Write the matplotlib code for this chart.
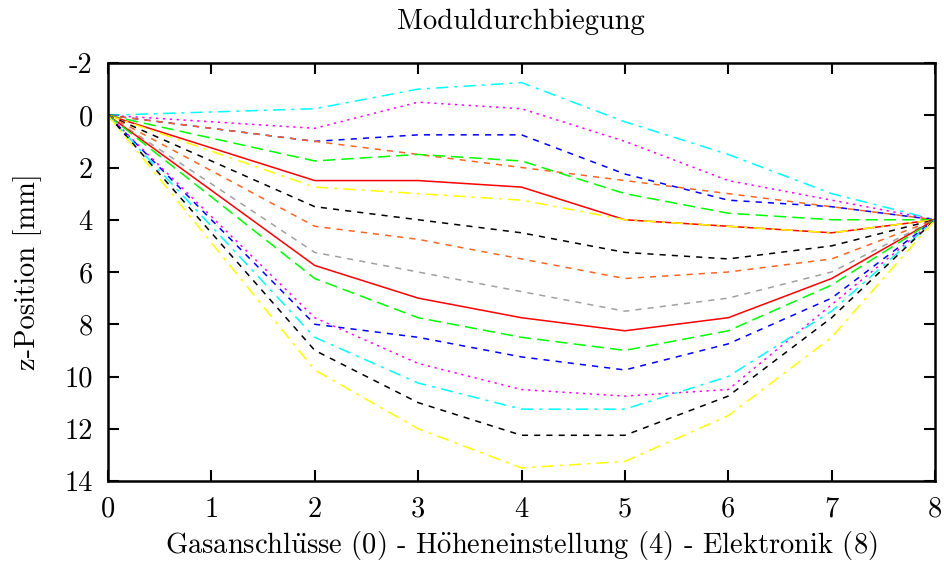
import matplotlib
matplotlib.use("Agg")
import matplotlib.pyplot as plt

plt.rcParams['font.family'] = ['cmr10', 'DejaVu Serif']
plt.rcParams['mathtext.fontset'] = 'cm'
plt.rcParams['axes.unicode_minus'] = False
plt.rcParams['axes.formatter.use_mathtext'] = False

x = [0, 2, 3, 4, 5, 6, 7, 8]

s01 = [0, -0.25, -1.0, -1.25, 0.25, 1.5, 3.0, 4]
s02 = [0, 0.5, -0.5, -0.25, 1.0, 2.5, 3.25, 4]
s03 = [0, 1.0, 0.75, 0.75, 2.25, 3.25, 3.5, 4]
s04 = [0, 1.0, 1.5, 2.0, 2.5, 3.0, 3.5, 4]
s05 = [0, 1.75, 1.5, 1.75, 3.0, 3.75, 4.0, 4]
s06 = [0, 2.5, 2.5, 2.75, 4.0, 4.25, 4.5, 4]
s07 = [0, 2.75, 3.0, 3.25, 4.0, 4.25, 4.5, 4]
s08 = [0, 3.5, 4.0, 4.5, 5.25, 5.5, 5.0, 4]
s09 = [0, 4.25, 4.75, 5.5, 6.25, 6.0, 5.5, 4]
s10 = [0, 5.25, 6.0, 6.75, 7.5, 7.0, 6.0, 4]
s11 = [0, 5.75, 7.0, 7.75, 8.25, 7.75, 6.25, 4]
s12 = [0, 6.25, 7.75, 8.5, 9.0, 8.25, 6.5, 4]
s13 = [0, 8.0, 8.5, 9.25, 9.75, 8.75, 7.0, 4]
s14 = [0, 7.75, 9.5, 10.5, 10.75, 10.5, 7.25, 4]
s15 = [0, 8.5, 10.25, 11.25, 11.25, 10.0, 7.5, 4]
s16 = [0, 9.0, 11.0, 12.25, 12.25, 10.75, 7.75, 4]
s17 = [0, 9.75, 12.0, 13.5, 13.25, 11.5, 8.5, 4]

series = [s01, s02, s03, s04, s05, s06, s07, s08, s09,
          s10, s11, s12, s13, s14, s15, s16, s17]

title = "Moduldurchbiegung"
# umlauts drawn with mathtext accents (Computer Modern has no ü/ö glyphs)
xlabel = (r"Gasanschl$\ddot{\mathrm{u}}$sse (0) - H$\ddot{\mathrm{o}}$heneinstellung (4)"
          r" - Elektronik (8)")
ylabel = "z-Position [mm]"
xticks = [0, 1, 2, 3, 4, 5, 6, 7, 8]
yticks = [-2, 0, 2, 4, 6, 8, 10, 12, 14]

cyan, magenta, blue, orange = "#00ffff", "#ff00ff", "#0000ff", "#ff6420"
green, red, yellow, black, gray = "#00ff00", "#ff0000", "#ffff00", "#000000", "#a0a0a0"

dashdot = (0, (8, 4, 2, 4))
dotted = (0, (1.5, 3))
short = (0, (4, 4))
longd = (0, (8, 4))

styles = [
    (cyan, dashdot), (magenta, dotted), (blue, short), (orange, short),
    (green, longd), (red, '-'), (yellow, dashdot), (black, short),
    (orange, short), (gray, short), (red, '-'), (green, longd),
    (blue, short), (magenta, dotted), (cyan, dashdot), (black, short),
    (yellow, dashdot),
]

W, H = 944, 564
fig = plt.figure(figsize=(W / 100, H / 100), dpi=100)
ax = fig.add_axes([108/W, 1-481/H, (935-108)/W, (481-63)/H])

for s, (c, ls) in zip(series, styles):
    ax.plot(x, s, color=c, linestyle=ls, linewidth=1.1)

ax.set_xlim(0, 8)
ax.set_ylim(14, -2)
ax.set_xticks(xticks)
ax.set_yticks(yticks)
ax.set_xticklabels([str(v) for v in xticks])
ax.set_yticklabels([str(v) for v in yticks])
ax.tick_params(direction='in', length=8, width=1.5, top=True, right=True,
               labelsize=20.5)
ax.tick_params(axis='x', pad=11)
ax.tick_params(axis='y', pad=11)
for sp in ax.spines.values():
    sp.set_linewidth(1.8)

fs = 20.5
fig.text(521/W, 1-22/H, title, fontsize=fs, ha='center', va='center')
fig.text(521/W, 1-545/H, xlabel, fontsize=fs, ha='center', va='center')
fig.text(28/W, 1-272/H, ylabel, fontsize=fs, ha='center', va='center',
         rotation=90)

fig.savefig("out.png", dpi=100)
